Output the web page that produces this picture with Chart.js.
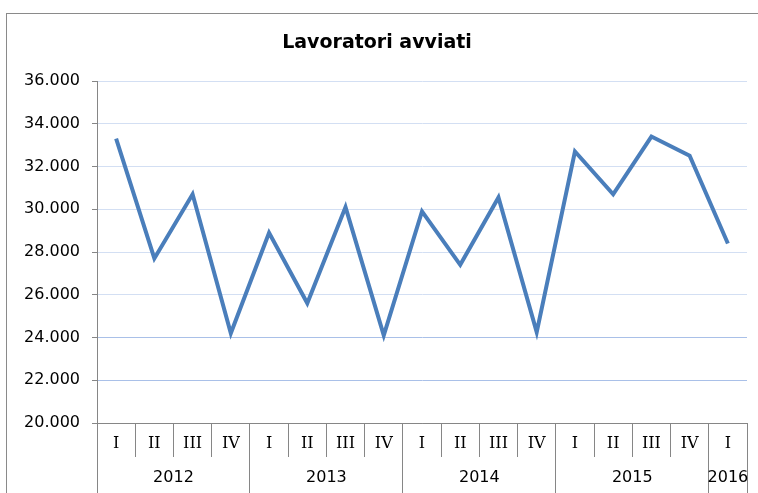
<!DOCTYPE html>
<html>
<head>
<meta charset="utf-8">
<script src="https://cdn.jsdelivr.net/npm/chart.js@4/dist/chart.umd.min.js"></script>
<style>
  html, body { margin: 0; padding: 0; background: #fff; width: 758px; height: 493px; overflow: hidden; }
  #frame { position: absolute; left: 6px; top: 13px; border-left: 1px solid #8a8a8a; border-top: 1px solid #8a8a8a; }
  canvas { display: block; }
</style>
</head>
<body>
<div id="frame"><canvas id="c" width="751" height="479"></canvas></div>
<script>
const quarters = ['I','II','III','IV','I','II','III','IV','I','II','III','IV','I','II','III','IV','I'];
const years = ['2012','2012','2012','2012','2013','2013','2013','2013','2014','2014','2014','2014','2015','2015','2015','2015','2016'];
const avviati = [33300, 27700, 30700, 24200, 28900, 25600, 30100, 24100, 29900, 27400, 30550, 24250, 32700, 30700, 33400, 32500, 28400];
const yTicks = { min: 20000, max: 36000, step: 2000 };

// year groups (start index, end index) derived from the years list
const groups = [];
years.forEach((y, i) => {
  const g = groups[groups.length - 1];
  if (g && g.label === y) g.end = i; else groups.push({ label: y, start: i, end: i });
});
const boundaries = [];
const centers = {};
groups.forEach((g, k) => {
  if (k === 0) boundaries.push(g.start - 0.5);
  boundaries.push(g.end + 0.5);
  centers[(g.start + g.end) / 2] = g.label;
});

const fmt = v => String(v).replace(/\B(?=(\d{3})+(?!\d))/g, '.');
const AX = '#868686';

Chart.defaults.font.family = '"DejaVu Sans", Verdana, sans-serif';
Chart.defaults.color = '#000';

new Chart(document.getElementById('c'), {
  type: 'line',
  data: {
    labels: quarters,
    datasets: [{
      data: avviati,
      borderColor: '#4a7ebb',
      borderWidth: 4,
      pointRadius: 0,
      tension: 0,
      fill: false
    }]
  },
  options: {
    responsive: false,
    animation: false,
    devicePixelRatio: 1,
    layout: { padding: { left: 0, right: 11, top: 0, bottom: 0 } },
    plugins: {
      legend: { display: false },
      tooltip: { enabled: false },
      title: {
        display: true,
        text: 'Lavoratori avviati',
        color: '#000',
        font: { size: 19, weight: 'bold' },
        padding: { top: 17.6, bottom: 26.6 }
      }
    },
    scales: {
      y: {
        min: yTicks.min,
        max: yTicks.max,
        afterFit: s => { s.width = 90; },
        ticks: { stepSize: yTicks.step, callback: v => fmt(v), font: { size: 16 }, padding: 12, color: '#000' },
        border: { display: true, color: AX, width: 1 },
        grid: {
          tickLength: 5,
          tickColor: AX,
          color: ctx => {
            const v = ctx.tick ? ctx.tick.value : 0;
            if (v === yTicks.min) return AX;
            if (v <= 24000) return '#a9c0e8';
            return '#d3dff3';
          }
        }
      },
      x: {
        type: 'category',
        position: 'bottom',
        weight: 0,
        offset: true,
        afterFit: s => { s.height = 34; },
        ticks: { font: { size: 16, family: '"DejaVu Serif", serif' }, padding: -22.6, autoSkip: false, maxRotation: 0, minRotation: 0, color: '#000' },
        border: { display: true, color: AX, width: 1 },
        grid: { offset: true, drawOnChartArea: false, tickLength: 34, color: AX, tickColor: AX }
      },
      x2: {
        type: 'linear',
        position: 'bottom',
        weight: 1,
        min: -0.5,
        max: quarters.length - 0.5,
        afterFit: s => { s.height = 36; },
        afterBuildTicks: s => {
          const vals = boundaries.concat(Object.keys(centers).map(Number)).sort((a, b) => a - b);
          s.ticks = vals.map(v => ({ value: v }));
        },
        ticks: {
          font: { size: 16 }, padding: -24.6, autoSkip: false, maxRotation: 0, minRotation: 0, color: '#000',
          callback: v => (centers[v] !== undefined ? centers[v] : '')
        },
        border: { display: false },
        grid: {
          drawOnChartArea: false,
          tickLength: 36,
          color: ctx => (ctx.tick && boundaries.includes(ctx.tick.value) ? AX : 'rgba(0,0,0,0)'),
          tickColor: ctx => (ctx.tick && boundaries.includes(ctx.tick.value) ? AX : 'rgba(0,0,0,0)')
        }
      }
    }
  }
});
</script>
</body>
</html>
